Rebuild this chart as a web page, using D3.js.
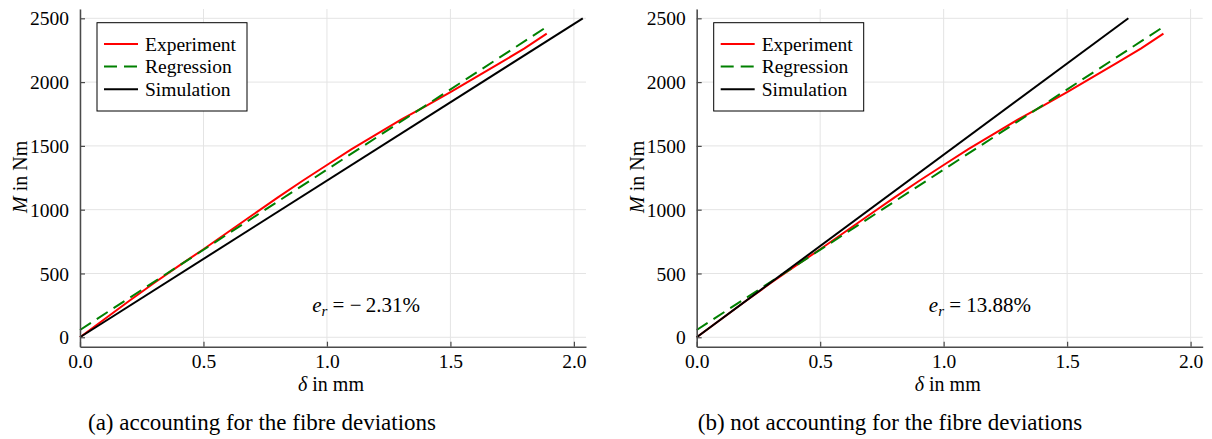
<!DOCTYPE html>
<html>
<head>
<meta charset="utf-8">
<script src="https://cdn.jsdelivr.net/npm/d3@7"></script>
<style>
  body { margin: 0; background: #fff; }
  text { font-family: "Liberation Serif", "Times New Roman", serif; fill: #000; }
</style>
</head>
<body>
<div class="canvas"></div>
<script>
// experiment (same measurement in both panels)
var expDelta = [0, 0.1, 0.2, 0.3, 0.4, 0.5, 0.6, 0.7, 0.8, 0.9, 1.0, 1.1, 1.2, 1.3, 1.4, 1.5, 1.6, 1.7, 1.8, 1.89];
var expMoment = [0, 143, 286, 425, 560, 690, 825, 960, 1095, 1225, 1350, 1475, 1590, 1705, 1812, 1922, 2035, 2148, 2265, 2380];
// linear regression of the experiment
var regDelta = [0, 1.89];
var regMoment = [57, 2433];
// simulation, with and without fibre deviations
var simDeltaA = [0, 2.036];
var simMomentA = [0, 2500];
var simDeltaB = [0, 1.748];
var simMomentB = [0, 2500];

var xTicks = [0, 0.5, 1.0, 1.5, 2.0];
var yTicks = [0, 500, 1000, 1500, 2000, 2500];
var legendLabels = ["Experiment", "Regression", "Simulation"];
var errorLabels = ["\u2212\u20092.31%", "13.88%"];
var captions = ["(a) accounting for the fibre deviations", "(b) not accounting for the fibre deviations"];

var width = 1212;
var height = 439;
var plotW = 506;
var plotH = 337.7;
var plotTop = 9;
var lineStroke = 2;

var svg = d3
  .select(".canvas")
  .append("svg")
  .attr("width", width)
  .attr("height", height);

function zip(xs, ys) {
  return xs.map((x, i) => ({ d: x, m: ys[i] }));
}

function drawPanel(left, simDelta, simMoment, errLabel, caption, capX) {
  var g = svg.append("g").attr("transform", `translate(${left}, ${plotTop})`);

  /* Scale */
  var xScale = d3.scaleLinear().domain([0, 2.049]).range([0, plotW]);
  var yScale = d3.scaleLinear().domain([-74, 2573]).range([plotH, 0]);

  /* Grid */
  g.append("g")
    .selectAll("line")
    .data(yTicks)
    .enter()
    .append("line")
    .attr("x1", 0)
    .attr("x2", plotW)
    .attr("y1", (d) => yScale(d))
    .attr("y2", (d) => yScale(d))
    .attr("stroke", "#e4e4e4")
    .attr("stroke-width", 1);
  g.append("g")
    .selectAll("line")
    .data(xTicks)
    .enter()
    .append("line")
    .attr("x1", (d) => xScale(d))
    .attr("x2", (d) => xScale(d))
    .attr("y1", 0)
    .attr("y2", plotH)
    .attr("stroke", "#e4e4e4")
    .attr("stroke-width", 1);

  /* Lines */
  var line = d3
    .line()
    .x((d) => xScale(d.d))
    .y((d) => yScale(d.m));

  var series = [
    { values: zip(expDelta, expMoment), color: "#ff0000", dash: null },
    { values: zip(regDelta, regMoment), color: "#008000", dash: "13,7" },
    { values: zip(simDelta, simMoment), color: "#000000", dash: null },
  ];

  g.append("g")
    .selectAll("path")
    .data(series)
    .enter()
    .append("path")
    .attr("d", (d) => line(d.values))
    .attr("fill", "none")
    .attr("stroke", (d) => d.color)
    .attr("stroke-width", lineStroke)
    .attr("stroke-dasharray", (d) => d.dash);

  /* Axes */
  var xAxis = d3.axisBottom(xScale).tickValues(xTicks).tickSizeInner(-5).tickSizeOuter(0).tickPadding(7).tickFormat(d3.format(".1f"));
  var yAxis = d3.axisLeft(yScale).tickValues(yTicks).tickSizeInner(-5).tickSizeOuter(0).tickPadding(11).tickFormat(d3.format("d"));

  var gx = g.append("g").attr("transform", `translate(0, ${plotH})`).call(xAxis);
  var gy = g.append("g").call(yAxis);
  [gx, gy].forEach(function (a) {
    a.select(".domain").attr("stroke", "#4a4a4a").attr("stroke-width", 1.5);
    a.selectAll(".tick line").attr("stroke", "#4a4a4a").attr("stroke-width", 1.2);
    a.selectAll(".tick text")
      .attr("font-family", "Liberation Serif")
      .attr("font-size", "19.5px")
      .attr("fill", "#000");
  });
  gy.selectAll(".tick text").attr("dy", "0.34em");

  /* Axis labels */
  var xl = g.append("text")
    .attr("x", plotW / 2 - 2)
    .attr("y", plotH + 44)
    .attr("text-anchor", "middle")
    .attr("font-size", "20px");
  xl.append("tspan").attr("font-style", "italic").text("\u03b4");
  xl.append("tspan").text(" in mm");

  var yl = g.append("text")
    .attr("transform", `translate(${-60}, ${plotH / 2 - 1}) rotate(-90)`)
    .attr("text-anchor", "middle")
    .attr("dy", "0.34em")
    .attr("font-size", "20px");
  yl.append("tspan").attr("font-style", "italic").text("M");
  yl.append("tspan").text(" in Nm");

  /* Error annotation */
  var ann = g.append("text")
    .attr("x", xScale(0.94))
    .attr("y", yScale(198))
    .attr("font-size", "21px");
  ann.append("tspan").attr("font-style", "italic").text("e");
  ann.append("tspan").attr("font-style", "italic").attr("font-size", "15px").attr("dy", 4).text("r");
  ann.append("tspan").attr("dy", -4).text(" = " + errLabel);

  /* Legend */
  var lg = g.append("g").attr("transform", "translate(17, 13.7)");
  lg.append("rect")
    .attr("width", 150)
    .attr("height", 88.3)
    .attr("fill", "#fff")
    .attr("stroke", "#000")
    .attr("stroke-width", 1);
  var rows = lg
    .selectAll(".row")
    .data(series)
    .enter()
    .append("g")
    .attr("class", "row")
    .attr("transform", (d, i) => `translate(0, ${21.3 + i * 22.6})`);
  rows.append("line")
    .attr("x1", 7)
    .attr("x2", 41)
    .attr("stroke", (d) => d.color)
    .attr("stroke-width", lineStroke)
    .attr("stroke-dasharray", (d) => d.dash);
  rows.append("text")
    .attr("x", 48)
    .attr("dy", "0.34em")
    .attr("font-size", "19.5px")
    .text((d, i) => legendLabels[i]);

  /* Caption */
  svg.append("text")
    .attr("x", capX)
    .attr("y", 430)
    .attr("text-anchor", "middle")
    .attr("font-size", "23px")
    .text(caption);
}

drawPanel(80, simDeltaA, simMomentA, errorLabels[0], captions[0], 262);
drawPanel(696.7, simDeltaB, simMomentB, errorLabels[1], captions[1], 890);
</script>
</body>
</html>
